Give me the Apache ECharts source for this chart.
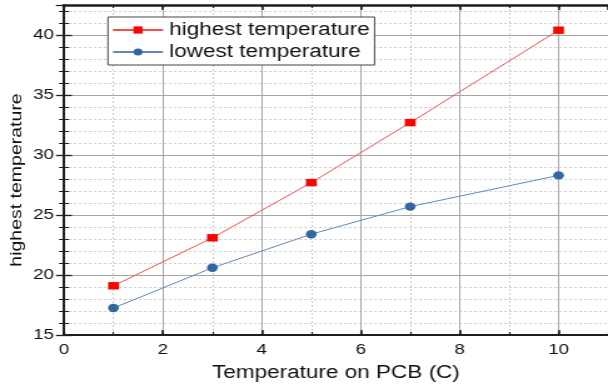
<!DOCTYPE html>
<html>
<head>
<meta charset="utf-8">
<script src="https://cdn.jsdelivr.net/npm/echarts@6/dist/echarts.min.js"></script>
<style>
  html, body { margin: 0; padding: 0; background: #fff; overflow: hidden; }
  /* the chart is laid out on a narrower canvas and widened, which gives the broad lettering and wide markers */
  #chart { width: 486px; height: 387px; transform: scaleX(1.25103); transform-origin: 0 0; }
</style>
</head>
<body>
<div id="chart"></div>
<script>
// PCB temperature (x) against measured highest / lowest temperature
const pcbTemp = [1, 3, 5, 7, 10];
const highestTemp = [19.1, 23.1, 27.7, 32.7, 40.4];
const lowestTemp = [17.25, 20.6, 23.4, 25.7, 28.3];
const seriesNames = ['highest temperature', 'lowest temperature'];
const xTitle = 'Temperature on PCB (C)';
const yTitle = 'highest temperature';

const FONT = 'Arial, "Liberation Sans", sans-serif';
const AXIS = '#1e1e1e';
const MAJOR_GRID = '#a6a6a6';
const MINOR_GRID = '#cdcdcd';

const toPairs = (ys) => pcbTemp.map((x, i) => [x, ys[i]]);

const xRange = { min: 0, max: 11 };
const yRange = { min: 15, max: 42.5 };

function axis(base, opts) {
  return Object.assign({
    type: 'value',
    gridIndex: 0,
    axisLine: { show: false },
    axisTick: { show: false },
    axisLabel: { show: false },
    splitLine: { show: false }
  }, base, opts);
}

const chart = echarts.init(document.getElementById('chart'), null, { renderer: 'canvas' });

chart.setOption({
  backgroundColor: '#fff',
  animation: false,
  grid: { left: 51.16, right: -3.2, top: 5, bottom: 51 },
  legend: {
    orient: 'vertical',
    left: 86.3,
    top: 17,
    data: seriesNames,
    itemWidth: 40,
    itemHeight: 9,
    itemGap: 4,
    padding: [4, 4, 4, 3],
    backgroundColor: '#fff',
    borderColor: '#444',
    borderWidth: 1,
    borderRadius: 0,
    textStyle: { fontFamily: FONT, fontSize: 18, color: '#111' }
  },
  xAxis: [
    // minor grid, ticks every 1 along the bottom
    axis(xRange, {
      position: 'bottom', interval: 1,
      axisTick: { show: true, inside: true, length: 3, lineStyle: { color: AXIS, width: 1.2 } },
      splitLine: { show: true, lineStyle: { color: MINOR_GRID, type: [2, 2], width: 1 } }
    }),
    // major bottom axis with labels and title
    axis(xRange, {
      position: 'bottom', interval: 2,
      axisLine: { show: true, lineStyle: { color: AXIS, width: 2 } },
      axisTick: { show: true, inside: true, length: 5, lineStyle: { color: AXIS, width: 1.6 } },
      axisLabel: { show: true, showMaxLabel: false, margin: 7, fontFamily: FONT, fontSize: 15, color: '#111' },
      splitLine: { show: true, lineStyle: { color: MAJOR_GRID, width: 1 } },
      name: xTitle, nameLocation: 'middle', nameGap: 29,
      nameTextStyle: { fontFamily: FONT, fontSize: 18, color: '#111' }
    }),
    // top frame
    axis(xRange, {
      position: 'top', interval: 1,
      axisTick: { show: true, inside: true, length: 3, lineStyle: { color: AXIS, width: 1.2 } }
    }),
    axis(xRange, {
      position: 'top', interval: 2,
      axisLine: { show: true, lineStyle: { color: AXIS, width: 2.5 } },
      axisTick: { show: true, inside: true, length: 5, lineStyle: { color: AXIS, width: 1.6 } }
    })
  ],
  yAxis: [
    // minor grid, ticks every 1 on the left
    axis(yRange, {
      position: 'left', interval: 1,
      axisTick: { show: true, inside: true, length: 4, lineStyle: { color: AXIS, width: 1 } },
      splitLine: { show: true, lineStyle: { color: MINOR_GRID, type: [2, 2], width: 1 } }
    }),
    // major left axis with labels
    axis(yRange, {
      position: 'left', interval: 5,
      axisLine: { show: true, lineStyle: { color: AXIS, width: 1.6 } },
      axisTick: { show: true, inside: true, length: 6.4, lineStyle: { color: AXIS, width: 1.3 } },
      axisLabel: { show: true, showMaxLabel: false, margin: 8, fontFamily: FONT, fontSize: 15, color: '#111' },
      splitLine: { show: true, lineStyle: { color: MAJOR_GRID, width: 1 } }
    }),
    // right frame
    axis(yRange, {
      position: 'right', interval: 1,
      axisTick: { show: true, inside: true, length: 4, lineStyle: { color: AXIS, width: 1 } }
    }),
    axis(yRange, {
      position: 'right', interval: 5,
      axisLine: { show: true, lineStyle: { color: AXIS, width: 1.6 } },
      axisTick: { show: true, inside: true, length: 6.4, lineStyle: { color: AXIS, width: 1.3 } }
    })
  ],
  graphic: [{
    type: 'text',
    x: 13.6,
    y: 180,
    rotation: Math.PI / 2,
    scaleX: 1.5,
    style: {
      text: yTitle,
      font: '13px ' + FONT,
      fill: '#111',
      align: 'center', verticalAlign: 'middle',
      textAlign: 'center', textVerticalAlign: 'middle'
    }
  }],
  series: [
    {
      name: seriesNames[0],
      type: 'line',
      xAxisIndex: 1, yAxisIndex: 1,
      data: toPairs(highestTemp),
      symbol: 'rect',
      symbolSize: [8.6, 7.4],
      itemStyle: { color: '#ff0000' },
      lineStyle: { color: '#ff4a4a', width: 1 },
      z: 4
    },
    {
      name: seriesNames[1],
      type: 'line',
      xAxisIndex: 1, yAxisIndex: 1,
      data: toPairs(lowestTemp),
      symbol: 'circle',
      symbolSize: [8.6, 8.4],
      itemStyle: { color: '#33669e' },
      lineStyle: { color: '#6288b8', width: 1 },
      z: 3
    }
  ]
});
</script>
</body>
</html>
